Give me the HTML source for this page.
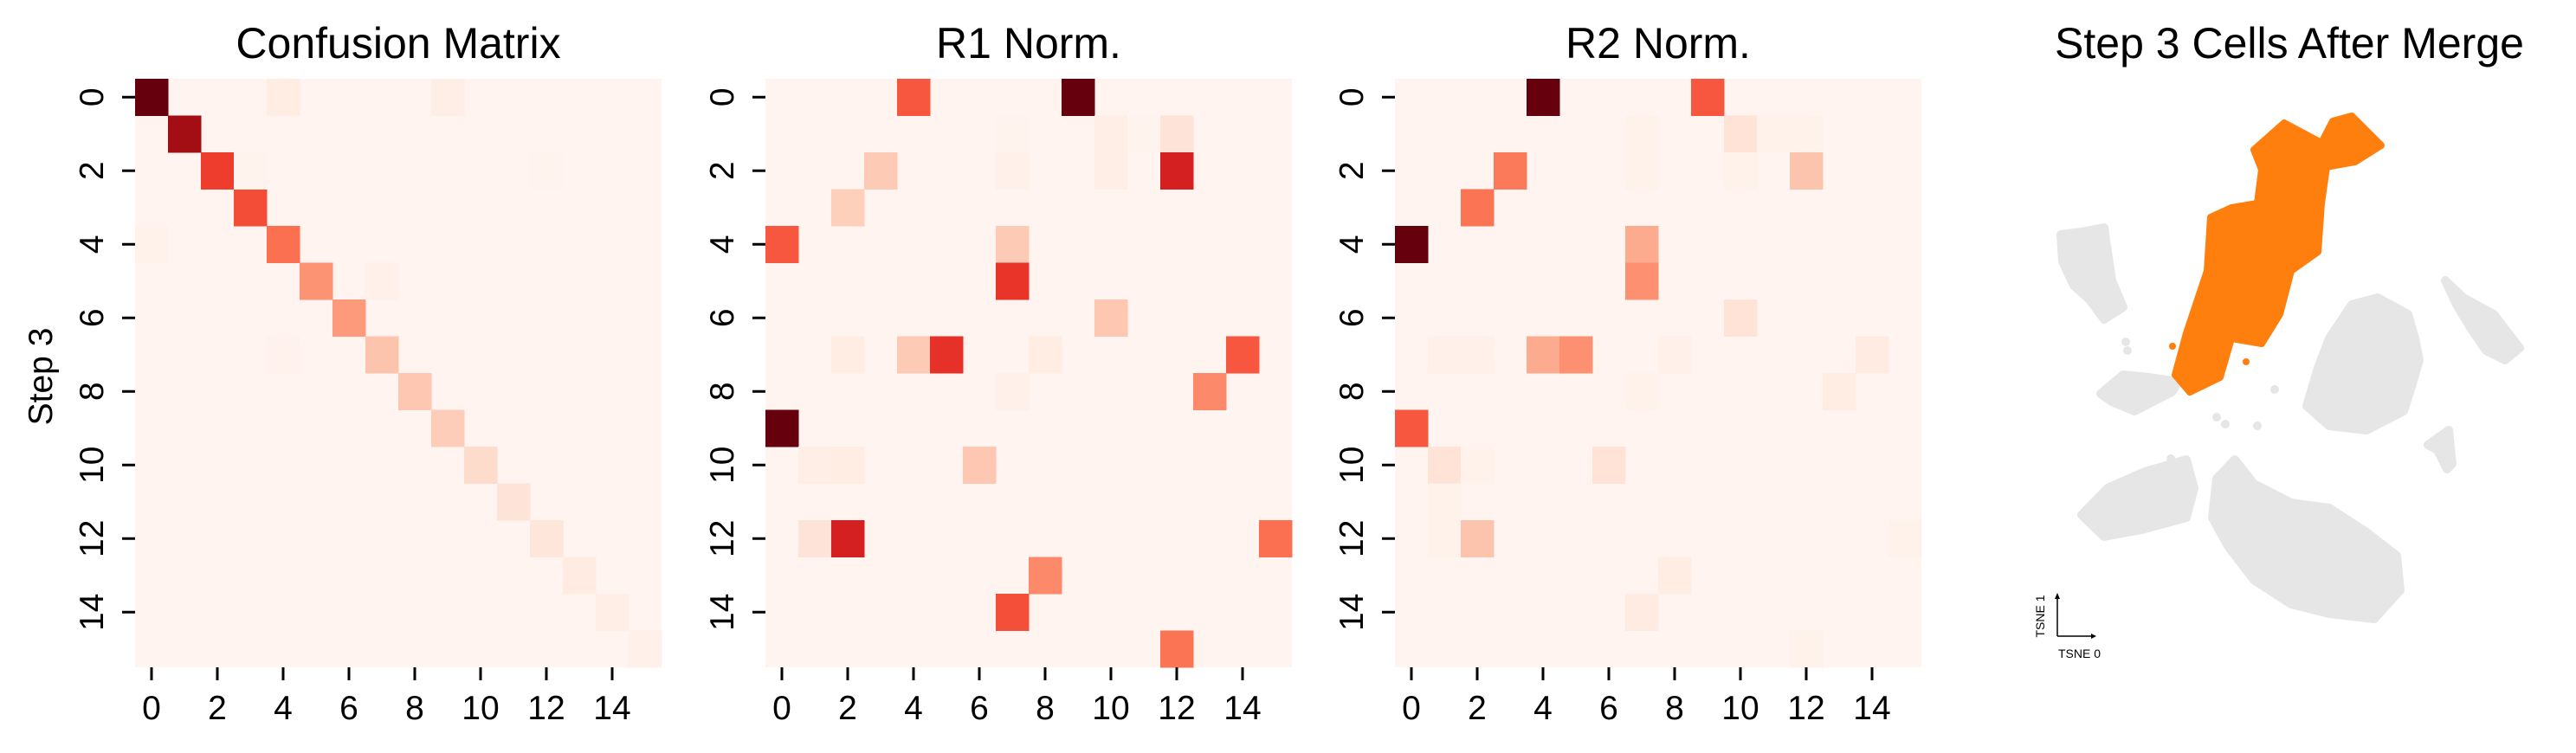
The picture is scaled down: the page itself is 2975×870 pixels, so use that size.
<!DOCTYPE html>
<html><head><meta charset="utf-8"><style>
html,body{margin:0;padding:0;background:#fff;}
svg{display:block;font-family:"Liberation Sans",Arial,sans-serif;}
</style></head><body>
<svg id="fig" width="2975" height="870" viewBox="0 0 2975 870" xmlns="http://www.w3.org/2000/svg"></svg>
<script>
// ---- data (sparse cells: [row, col, value]) ----
const categories = [0,1,2,3,4,5,6,7,8,9,10,11,12,13,14,15];
const tickLabels = ["0","2","4","6","8","10","12","14"];
const titles = ["Confusion Matrix","R1 Norm.","R2 Norm."];
const cmCells = [[0,0,1.0],[1,1,0.88],[2,2,0.62],[3,3,0.58],[4,4,0.48],[5,5,0.37],[6,6,0.35],[7,7,0.22],[8,8,0.21],[9,9,0.19],[10,10,0.14],[11,11,0.10],[12,12,0.09],[13,13,0.06],[14,14,0.04],[15,15,0.025],
 [0,4,0.05],[0,9,0.04],[4,0,0.02],[7,4,0.015],[5,7,0.03],[2,3,0.01],[2,12,0.01]];
const r1Cells = [[0,4,0.55],[0,9,1.0],[1,7,0.01],[1,10,0.04],[1,11,0.01],[1,12,0.1],[2,3,0.2],[2,7,0.03],[2,10,0.04],[2,12,0.72],[3,2,0.18],[4,0,0.55],[4,7,0.2],[5,7,0.65],[6,10,0.21],[7,2,0.05],[7,4,0.2],[7,5,0.66],[7,8,0.05],[7,14,0.55],[8,7,0.03],[8,13,0.4],[9,0,1.0],[10,1,0.04],[10,2,0.05],[10,6,0.21],[12,1,0.1],[12,2,0.72],[12,15,0.48],[13,8,0.4],[14,7,0.57],[15,12,0.47]];
const r2Cells = [[0,4,1.0],[0,9,0.55],[1,7,0.02],[1,10,0.11],[1,11,0.02],[1,12,0.02],[2,3,0.45],[2,7,0.02],[2,10,0.02],[2,12,0.22],[3,2,0.47],[4,0,1.0],[4,7,0.3],[5,7,0.38],[6,10,0.11],[7,1,0.03],[7,2,0.03],[7,4,0.3],[7,5,0.38],[7,8,0.03],[7,14,0.06],[8,7,0.02],[8,13,0.05],[9,0,0.55],[10,1,0.11],[10,2,0.02],[10,6,0.11],[11,1,0.02],[12,1,0.02],[12,2,0.22],[12,15,0.02],[13,8,0.05],[14,7,0.06],[15,12,0.02]];
const orangeBlob = [[2603,173],[2638,142],[2681,165],[2694,140],[2716,134],[2750,168],[2720,187],[2687,193],[2681,235],[2677,291],[2646,313],[2633,363],[2612,397],[2577,391],[2564,436],[2529,453],[2512,433],[2525,385],[2534,358],[2549,313],[2553,251],[2577,240],[2607,235],[2612,196]];
const greyBlobs = [
 [[2380,271],[2404,268],[2430,263],[2434,291],[2439,324],[2452,355],[2430,369],[2413,346],[2395,330],[2382,302]],
 [[2426,455],[2452,433],[2482,436],[2516,441],[2508,453],[2465,475],[2439,464]],
 [[2716,352],[2746,344],[2781,363],[2789,391],[2794,416],[2785,447],[2776,475],[2733,497],[2690,492],[2664,469],[2677,425],[2690,391]],
 [[2824,324],[2845,344],[2880,363],[2910,402],[2893,416],[2871,405],[2854,380],[2837,352]],
 [[2804,514],[2828,497],[2832,536],[2826,542],[2815,520]],
 [[2404,595],[2434,564],[2477,545],[2525,531],[2534,564],[2525,598],[2473,612],[2430,620]],
 [[2560,553],[2581,531],[2603,559],[2646,581],[2690,587],[2733,615],[2768,642],[2772,682],[2742,715],[2690,709],[2646,698],[2603,670],[2573,631],[2555,598]]
];
const greyDots = [[2455,395],[2457,405],[2607,492],[2627,450],[2560,482],[2570,490],[2672,678],[2507,530]];

const NS="http://www.w3.org/2000/svg";
const svg=document.getElementById('fig');
function mk(t,a,p){const e=document.createElementNS(NS,t);for(const k in a)e.setAttribute(k,a[k]);(p||svg).appendChild(e);return e;}
const stops=["#fff5f0","#fee0d2","#fcbba1","#fc9272","#fb6a4a","#ef3b2c","#cb181d","#a50f15","#67000d"];
function hex(h){return [1,3,5].map(i=>parseInt(h.substr(i,2),16));}
function reds(v){v=Math.max(0,Math.min(1,v));const s=v*8,i=Math.min(7,Math.floor(s)),f=s-i;const a=hex(stops[i]),b=hex(stops[i+1]);return "rgb("+a.map((x,k)=>Math.round(x+(b[k]-x)*f)).join(",")+")";}

const lefts=[156,884,1611], TOP0=91, W=608, H=680, n=categories.length;
const all=[cmCells,r1Cells,r2Cells];
all.forEach((cells,pi)=>{
  const L=lefts[pi];
  const xs=c=>L+c*W/n, ys=r=>TOP0+r*H/n;
  const g=mk('g',{});
  
  
  const bg=mk('rect',{x:L,y:TOP0,width:W,height:H,fill:reds(0.005)},g);
  
  
  cells.forEach(([r,c,v])=>{
    const e=mk('rect',{x:xs(c),y:ys(r),width:W/n+0.5,height:H/n+0.5,fill:reds(v)},g);
    
    
  });
  const t=mk('text',{x:L+W/2,y:67,'font-size':50,'text-anchor':'middle',fill:'#000'},g);
  t.textContent=titles[pi];
  
  
  tickLabels.forEach((lab,i)=>{
    const c=categories[i*2];
    const cx=xs(c)+W/n/2, cy=ys(c)+H/n/2;
    mk('line',{x1:cx,y1:TOP0+H,x2:cx,y2:TOP0+H+15,stroke:'#000','stroke-width':3},g);
    const xt=mk('text',{x:cx,y:831,'font-size':39,'text-anchor':'middle'},g);
    xt.textContent=lab;
    
    
    mk('line',{x1:L-15,y1:cy,x2:L,y2:cy,stroke:'#000','stroke-width':3},g);
    const yt=mk('text',{x:0,y:0,'font-size':39,'text-anchor':'middle',transform:`translate(${L-37},${cy}) rotate(-90)`},g);
    yt.textContent=lab;
    
    
  });
});
const yl=mk('text',{x:0,y:0,'font-size':39,'text-anchor':'middle',transform:'translate(60,435) rotate(-90)'});
yl.textContent='Step 3';



const tg=mk('g',{});


const tt=mk('text',{x:2644,y:67,'font-size':50,'text-anchor':'middle'},tg);
tt.textContent='Step 3 Cells After Merge';


greyBlobs.forEach(b=>{
  const p=mk('polygon',{points:b.map(q=>q.join(',')).join(' '),fill:'#e6e6e6',stroke:'#e6e6e6','stroke-width':10,'stroke-linejoin':'round'},tg);
  
  
});
greyDots.forEach(([x,y])=>{
  const c=mk('circle',{cx:x,cy:y,r:5,fill:'#e6e6e6'},tg);
  
  
});
const ob=mk('polygon',{points:orangeBlob.map(q=>q.join(',')).join(' '),fill:'#ff7f0e',stroke:'#ff7f0e','stroke-width':8,'stroke-linejoin':'round'},tg);


[[2509,400],[2594,418]].forEach(([x,y])=>{
  const c=mk('circle',{cx:x,cy:y,r:4,fill:'#ff7f0e'},tg);
  
  
});
mk('path',{d:'M2376,735 L2376,690 M2376,735 L2417,735',stroke:'#000','stroke-width':1.5,fill:'none'},tg);
mk('path',{d:'M2373,692 L2376,685 L2379,692 Z M2415,732 L2421,735 L2415,738 Z',fill:'#000'},tg);
const a1=mk('text',{x:0,y:0,'font-size':14,'text-anchor':'middle',transform:'translate(2361,712) rotate(-90)'},tg);
a1.textContent='TSNE 1';


const a0=mk('text',{x:2377,y:760,'font-size':14},tg);
a0.textContent='TSNE 0';


</script>
</body></html>
